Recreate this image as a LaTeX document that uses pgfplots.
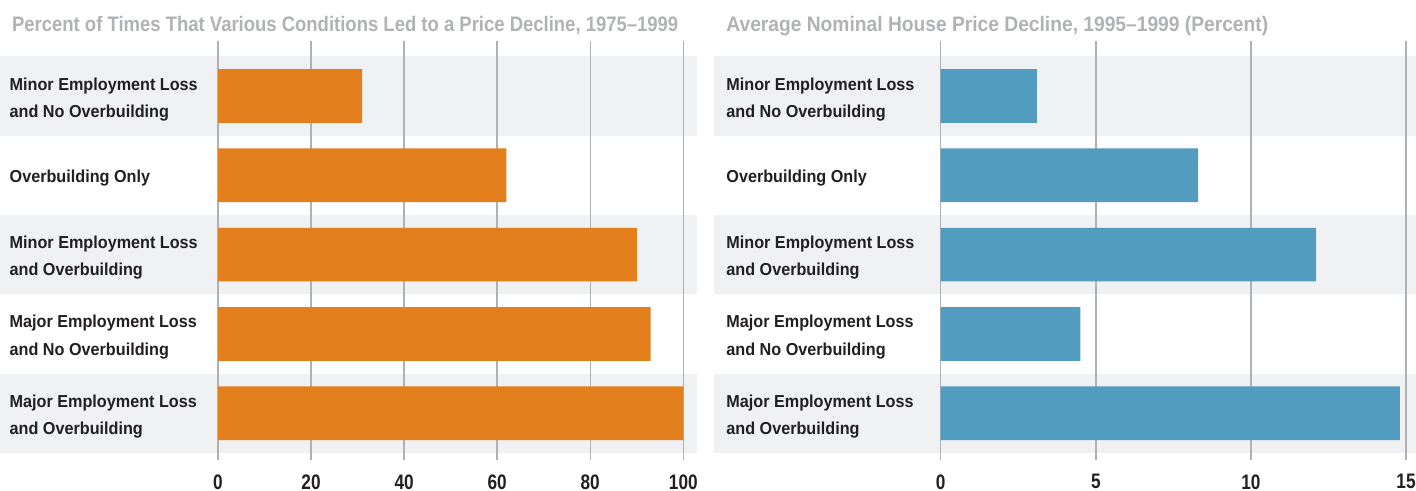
\documentclass[border=0pt]{standalone}
\usepackage{fontspec}
\setmainfont{Liberation Sans}[FakeStretch=0.82]
\newfontfamily\labelfont{Liberation Sans}[FakeStretch=0.935]
\newfontfamily\titlefont{Liberation Sans}[FakeStretch=0.88, Ligatures=TeX]
\newfontfamily\titlefontb{Liberation Sans}[FakeStretch=0.915, Ligatures=TeX]
\usepackage{pgfplots}
\pgfplotsset{compat=1.18}
\definecolor{barorange}{HTML}{E3801D}
\definecolor{barblue}{HTML}{529DBF}
\definecolor{bandgray}{HTML}{F0F1F3}
\definecolor{gridgray}{HTML}{B0B1B4}
\definecolor{titlegray}{HTML}{B0B2B5}
\definecolor{labeltext}{HTML}{231F20}

\pgfplotsset{
 geom/.style={
  clip=false, scale only axis, width=232.65pt, height=209.5pt,
  anchor=south west, y dir=reverse, ymin=0.3064, ymax=5.590,
 },
 panel/.style={
  geom,
  xbar, bar width=26.85pt,
  ytick={1,2,3,4,5},
  yticklabels={{Minor Employment Loss\\and No Overbuilding},{Overbuilding Only},{Minor Employment Loss\\and Overbuilding},{Major Employment Loss\\and No Overbuilding},{Major Employment Loss\\and Overbuilding}},
  yticklabel style={anchor=west, align=left, inner sep=0pt, yshift=-1.6pt, font=\labelfont\fontsize{8.66}{13.6}\selectfont\bfseries, text=labeltext},
  axis line style={draw=none},
  major tick length=0pt,
  xmajorgrids, grid style={gridgray, line width=0.7pt},
  xticklabel style={anchor=north, inner sep=0pt, yshift=-7pt, font=\fontsize{10.5}{12}\selectfont\bfseries, text=labeltext},
  /pgf/number format/assume math mode=true,
  every axis title shift=0pt,
  title style={anchor=base west, inner sep=0pt, yshift=0pt, font=\titlefont\fontsize{10.5}{12}\selectfont\bfseries, text=titlegray},
 }
}

\begin{document}
\begin{tikzpicture}
% background bands, left panel
\begin{axis}[geom, hide axis, at={(109pt,15.5pt)}, xmin=0, xmax=100]
 \fill[bandgray] (axis cs:-46.85,0.5) rectangle (axis cs:102.94,1.5);
 \fill[bandgray] (axis cs:-46.85,2.5) rectangle (axis cs:102.94,3.5);
 \fill[bandgray] (axis cs:-46.85,4.5) rectangle (axis cs:102.94,5.5);
\end{axis}
\begin{axis}[panel, at={(109pt,15.5pt)}, xmin=0, xmax=100, xtick={0,20,40,60,80,100},
 yticklabel style={xshift=-104.35pt},
 title={Percent of Times That Various Conditions Led to a Price Decline, 1975--1999},
 title style={at={(axis description cs:-0.4434,1.0222)}}]
 \addplot[draw=none, fill=barorange] coordinates {(31,1) (62,2) (90,3) (93,4) (100,5)};
\end{axis}
% background bands, right panel
\begin{axis}[geom, hide axis, at={(470.35pt,15.5pt)}, xmin=0, xmax=15]
 \fill[bandgray] (axis cs:-7.308,0.5) rectangle (axis cs:15.32,1.5);
 \fill[bandgray] (axis cs:-7.308,2.5) rectangle (axis cs:15.32,3.5);
 \fill[bandgray] (axis cs:-7.308,4.5) rectangle (axis cs:15.32,5.5);
\end{axis}
\begin{axis}[panel, at={(470.35pt,15.5pt)}, xmin=0, xmax=15, xtick={0,5,10,15},
 yticklabel style={xshift=-107.35pt},
 title={Average Nominal House Price Decline, 1995--1999 (Percent)},
 title style={at={(axis description cs:-0.4614,1.0222)}, font=\titlefontb\fontsize{10.5}{12}\selectfont\bfseries}]
 \addplot[draw=none, fill=barblue] coordinates {(3.1,1) (8.3,2) (12.1,3) (4.5,4) (14.8,5)};
\end{axis}
\pgfresetboundingbox
\path (0pt,0pt) rectangle (708pt,245.5pt);
\end{tikzpicture}
\end{document}
